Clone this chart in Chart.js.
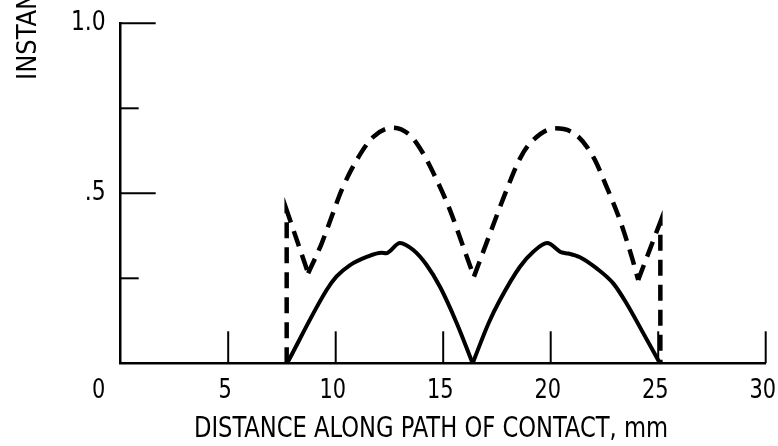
<!DOCTYPE html>
<html>
<head>
<meta charset="utf-8">
<script src="https://cdn.jsdelivr.net/npm/chart.js@4.4.1/dist/chart.umd.min.js"></script>
<style>
  html, body { margin: 0; padding: 0; background: #fff; }
</style>
</head>
<body>
<canvas id="chart" width="778" height="446"></canvas>
<script>
// valores: distancia (mm) e valor no eixo 0..1

// curva cheia, primeiro arco
const solidArch1X = [7.74, 9.57, 10.03, 10.67, 11.44, 12.14, 12.34, 12.99, 13.61, 14.23, 14.85, 15.63, 16.37];
const solidArch1Y = [0, 0.215, 0.255, 0.289, 0.313, 0.325, 0.324, 0.354, 0.333, 0.289, 0.225, 0.118, 0];
// curva cheia, segundo arco
const solidArch2X = [16.37, 17.11, 17.64, 18.57, 19.19, 19.83, 20.51, 20.82, 21.36, 22.14, 22.91, 23.53, 24.31, 25.08];
const solidArch2Y = [0, 0.118, 0.186, 0.284, 0.328, 0.354, 0.326, 0.323, 0.312, 0.279, 0.235, 0.176, 0.088, 0];

// curva tracejada: degrau inicial, dois arcos e degrau final
const dashStartX = [7.72, 7.72, 8.72];
const dashStartY = [0, 0.45, 0.265];
const dashArch1X = [8.72, 9.35, 9.81, 10.28, 10.98, 11.75, 12.68, 13.45, 14.07, 14.7, 15.32, 15.93, 16.43];
const dashArch1Y = [0.265, 0.353, 0.431, 0.51, 0.598, 0.666, 0.693, 0.671, 0.617, 0.539, 0.45, 0.343, 0.255];
const dashArch2X = [16.43, 17.18, 17.95, 18.57, 19.04, 20.2, 21.2, 21.98, 22.6, 23.22, 23.77, 24.07];
const dashArch2Y = [0.255, 0.382, 0.51, 0.602, 0.647, 0.691, 0.671, 0.607, 0.519, 0.421, 0.313, 0.245];
const dashEndX = [24.07, 25.1, 25.1];
const dashEndY = [0.245, 0.416, 0];

// marcas e rotulos dos eixos
const xTickValues = [5, 10, 15, 20, 25, 30];
const xTickLabels = ['5', '10', '15', '20', '25', '30'];
const yTickValues = [0.25, 0.5, 0.75, 1.0];
const yTickLabels = { 1: '1.0', 0.5: '.5' };

const xTitle = 'DISTANCE ALONG PATH OF CONTACT, mm';
const yTitle = 'INSTANTANEOUS';

const fonte = '"DejaVu Sans Condensed", "DejaVu Sans", sans-serif';

function pontos(xs, ys) {
  return xs.map((x, i) => ({ x: x, y: ys[i] }));
}

function serie(xs, ys, tracejado, suave) {
  return {
    data: pontos(xs, ys),
    borderColor: '#000',
    borderWidth: tracejado ? 4.5 : 4,
    borderDash: tracejado ? [16, 9] : [],
    pointRadius: 0,
    tension: 0,
    cubicInterpolationMode: suave ? 'monotone' : 'default',
  };
}

// texto mais estreito (a fonte do original e condensada)
function textoEstreito(ctx, txt, x, y, escala) {
  ctx.save();
  ctx.translate(x, y);
  ctx.scale(escala, 1);
  ctx.fillText(txt, 0, 0);
  ctx.restore();
}

// desenha as marcas internas dos eixos, os rotulos e os titulos
const marcasEixos = {
  id: 'marcasEixos',
  afterDraw(chart) {
    const { ctx } = chart;
    const x = chart.scales.x;
    const y = chart.scales.y;
    ctx.save();
    ctx.strokeStyle = '#000';
    ctx.lineWidth = 2;
    xTickValues.forEach((v) => {
      const px = x.getPixelForValue(v);
      ctx.beginPath();
      ctx.moveTo(px, y.bottom);
      ctx.lineTo(px, y.bottom - 32);
      ctx.stroke();
    });
    yTickValues.forEach((v) => {
      const py = y.getPixelForValue(v);
      const len = yTickLabels[v] ? 35 : 18;
      ctx.beginPath();
      ctx.moveTo(x.left, py);
      ctx.lineTo(x.left + len, py);
      ctx.stroke();
    });

    ctx.fillStyle = '#000';
    ctx.font = '27px ' + fonte;
    ctx.textBaseline = 'alphabetic';
    ctx.textAlign = 'center';
    // rotulos do eixo x
    xTickValues.forEach((v, i) => {
      textoEstreito(ctx, xTickLabels[i], x.getPixelForValue(v) - 3, y.bottom + 35, 0.86);
    });
    // "0" da origem
    textoEstreito(ctx, '0', x.left - 22, y.bottom + 35, 0.86);

    // rotulos do eixo y
    ctx.textAlign = 'right';
    ctx.textBaseline = 'middle';
    yTickValues.forEach((v) => {
      if (yTickLabels[v]) {
        textoEstreito(ctx, yTickLabels[v], x.left - 15, y.getPixelForValue(v), 0.9);
      }
    });

    // titulo do eixo x
    ctx.textAlign = 'center';
    ctx.textBaseline = 'alphabetic';
    ctx.font = '29px ' + fonte;
    textoEstreito(ctx, xTitle, 431, 437, 0.868);

    // titulo do eixo y (cortado no topo, como no original)
    ctx.translate(36, 80);
    ctx.rotate(-Math.PI / 2);
    ctx.font = '27px ' + fonte;
    ctx.textAlign = 'left';
    ctx.fillText(yTitle, 0, 0);
    ctx.restore();
  },
};

const ctx = document.getElementById('chart').getContext('2d');

const chart = new Chart(ctx, {
  type: 'line',
  data: {
    datasets: [
      serie(solidArch1X, solidArch1Y, false, true),
      serie(solidArch2X, solidArch2Y, false, true),
      serie(dashStartX, dashStartY, true, false),
      serie(dashArch1X, dashArch1Y, true, true),
      serie(dashArch2X, dashArch2Y, true, true),
      serie(dashEndX, dashEndY, true, false),
    ],
  },
  options: {
    responsive: false,
    animation: false,
    devicePixelRatio: 1,
    layout: { padding: { top: 23.3, right: 12.3, left: 0, bottom: 0 } },
    plugins: { legend: { display: false }, tooltip: { enabled: false } },
    scales: {
      x: {
        type: 'linear',
        min: 0,
        max: 30,
        grid: { display: false, drawTicks: false },
        border: { display: true, color: '#000', width: 2.5 },
        ticks: { display: false, stepSize: 5 },
        afterFit: (scale) => {
          scale.height = 446 - 363.3;
          scale.paddingLeft = 0;
          scale.paddingRight = 0;
        },
      },
      y: {
        type: 'linear',
        min: 0,
        max: 1,
        grid: { display: false, drawTicks: false },
        border: { display: true, color: '#000', width: 2.5 },
        ticks: { display: false, stepSize: 0.25 },
        afterFit: (scale) => {
          scale.width = 120.7;
          scale.paddingTop = 0;
          scale.paddingBottom = 0;
        },
      },
    },
  },
  plugins: [marcasEixos],
});
</script>
</body>
</html>
